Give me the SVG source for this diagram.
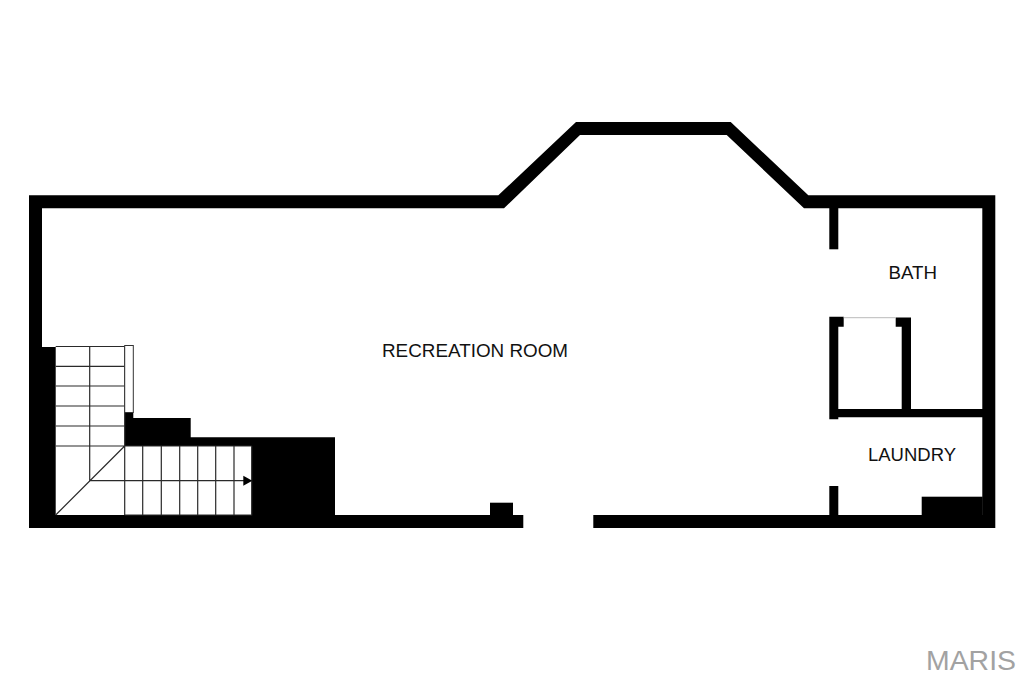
<svg xmlns="http://www.w3.org/2000/svg" width="1024" height="680" viewBox="0 0 1024 680">
<style>
.w{fill:#000}
.l{stroke:#2a2a2a;stroke-width:1.2;fill:none}
.t{font-family:"Liberation Sans",Arial,sans-serif;font-size:18px;fill:#111}
</style>
<rect width="1024" height="680" fill="#fff"/>
<g id="walls">
<path class="w" fill-rule="evenodd" d="M29 195.3H498.3L576 122H730.7L808.3 195.3H995.3V528H593.3V515H982.3V208.3H804L726.7 135H580L504 208.3H42V347H55.7V515H523.3V528H29Z"/>
<rect class="w" x="829.3" y="208" width="9" height="41.3"/>
<path class="w" d="M829.3 316.7H843.7V326.7H838.3V409H901.7V326.7H895.7V317.5H911V409H983V417.3H838.3V419.3H829.3Z"/>
<rect class="w" x="829.3" y="486" width="9" height="29.5"/>
<rect class="w" x="921.7" y="496.7" width="61" height="19"/>
<rect class="w" x="490" y="502.7" width="23" height="13"/>
<path class="w" d="M124.7 412H133.3V418H190.7V437.3H335V515.5H251.7V446H124.7Z"/>
</g>
<g id="stairs">
<path class="l" d="M55.7 346.5H124.7V515M55.7 366.3H124.7M55.7 386H124.7M55.7 406H124.7M55.7 426H124.7M55.7 446H251.7M89.7 346.5V480.7M55.7 515L124.7 446M124.7 515H251.7V446M142.7 446V515M161.3 446V515M179.7 446V515M197.7 446V515M215.7 446V515M234 446V515M89.7 480.7H244"/>
<rect x="124.7" y="345.5" width="8.6" height="67" fill="#fff" stroke="#333" stroke-width="1"/>
<path class="w" d="M243.3 475.7L252.3 480.7L243.3 485.7Z"/>
</g>
<g id="closet-door"><path d="M843.7 317.7H895.7" stroke="#bbb" stroke-width="1" fill="none"/></g>
<g id="recreation-room"><text class="t" x="382" y="357" textLength="186" lengthAdjust="spacingAndGlyphs">RECREATION ROOM</text></g>
<g id="bath"><text class="t" x="888.5" y="279" textLength="48.5" lengthAdjust="spacingAndGlyphs">BATH</text></g>
<g id="laundry"><text class="t" x="868" y="460.5" textLength="88" lengthAdjust="spacingAndGlyphs">LAUNDRY</text></g>
<g id="watermark"><text x="926" y="670" font-family="'Liberation Sans',Arial,sans-serif" font-size="28" fill="#a2a2a2" textLength="90" lengthAdjust="spacingAndGlyphs">MARIS</text></g>
</svg>
